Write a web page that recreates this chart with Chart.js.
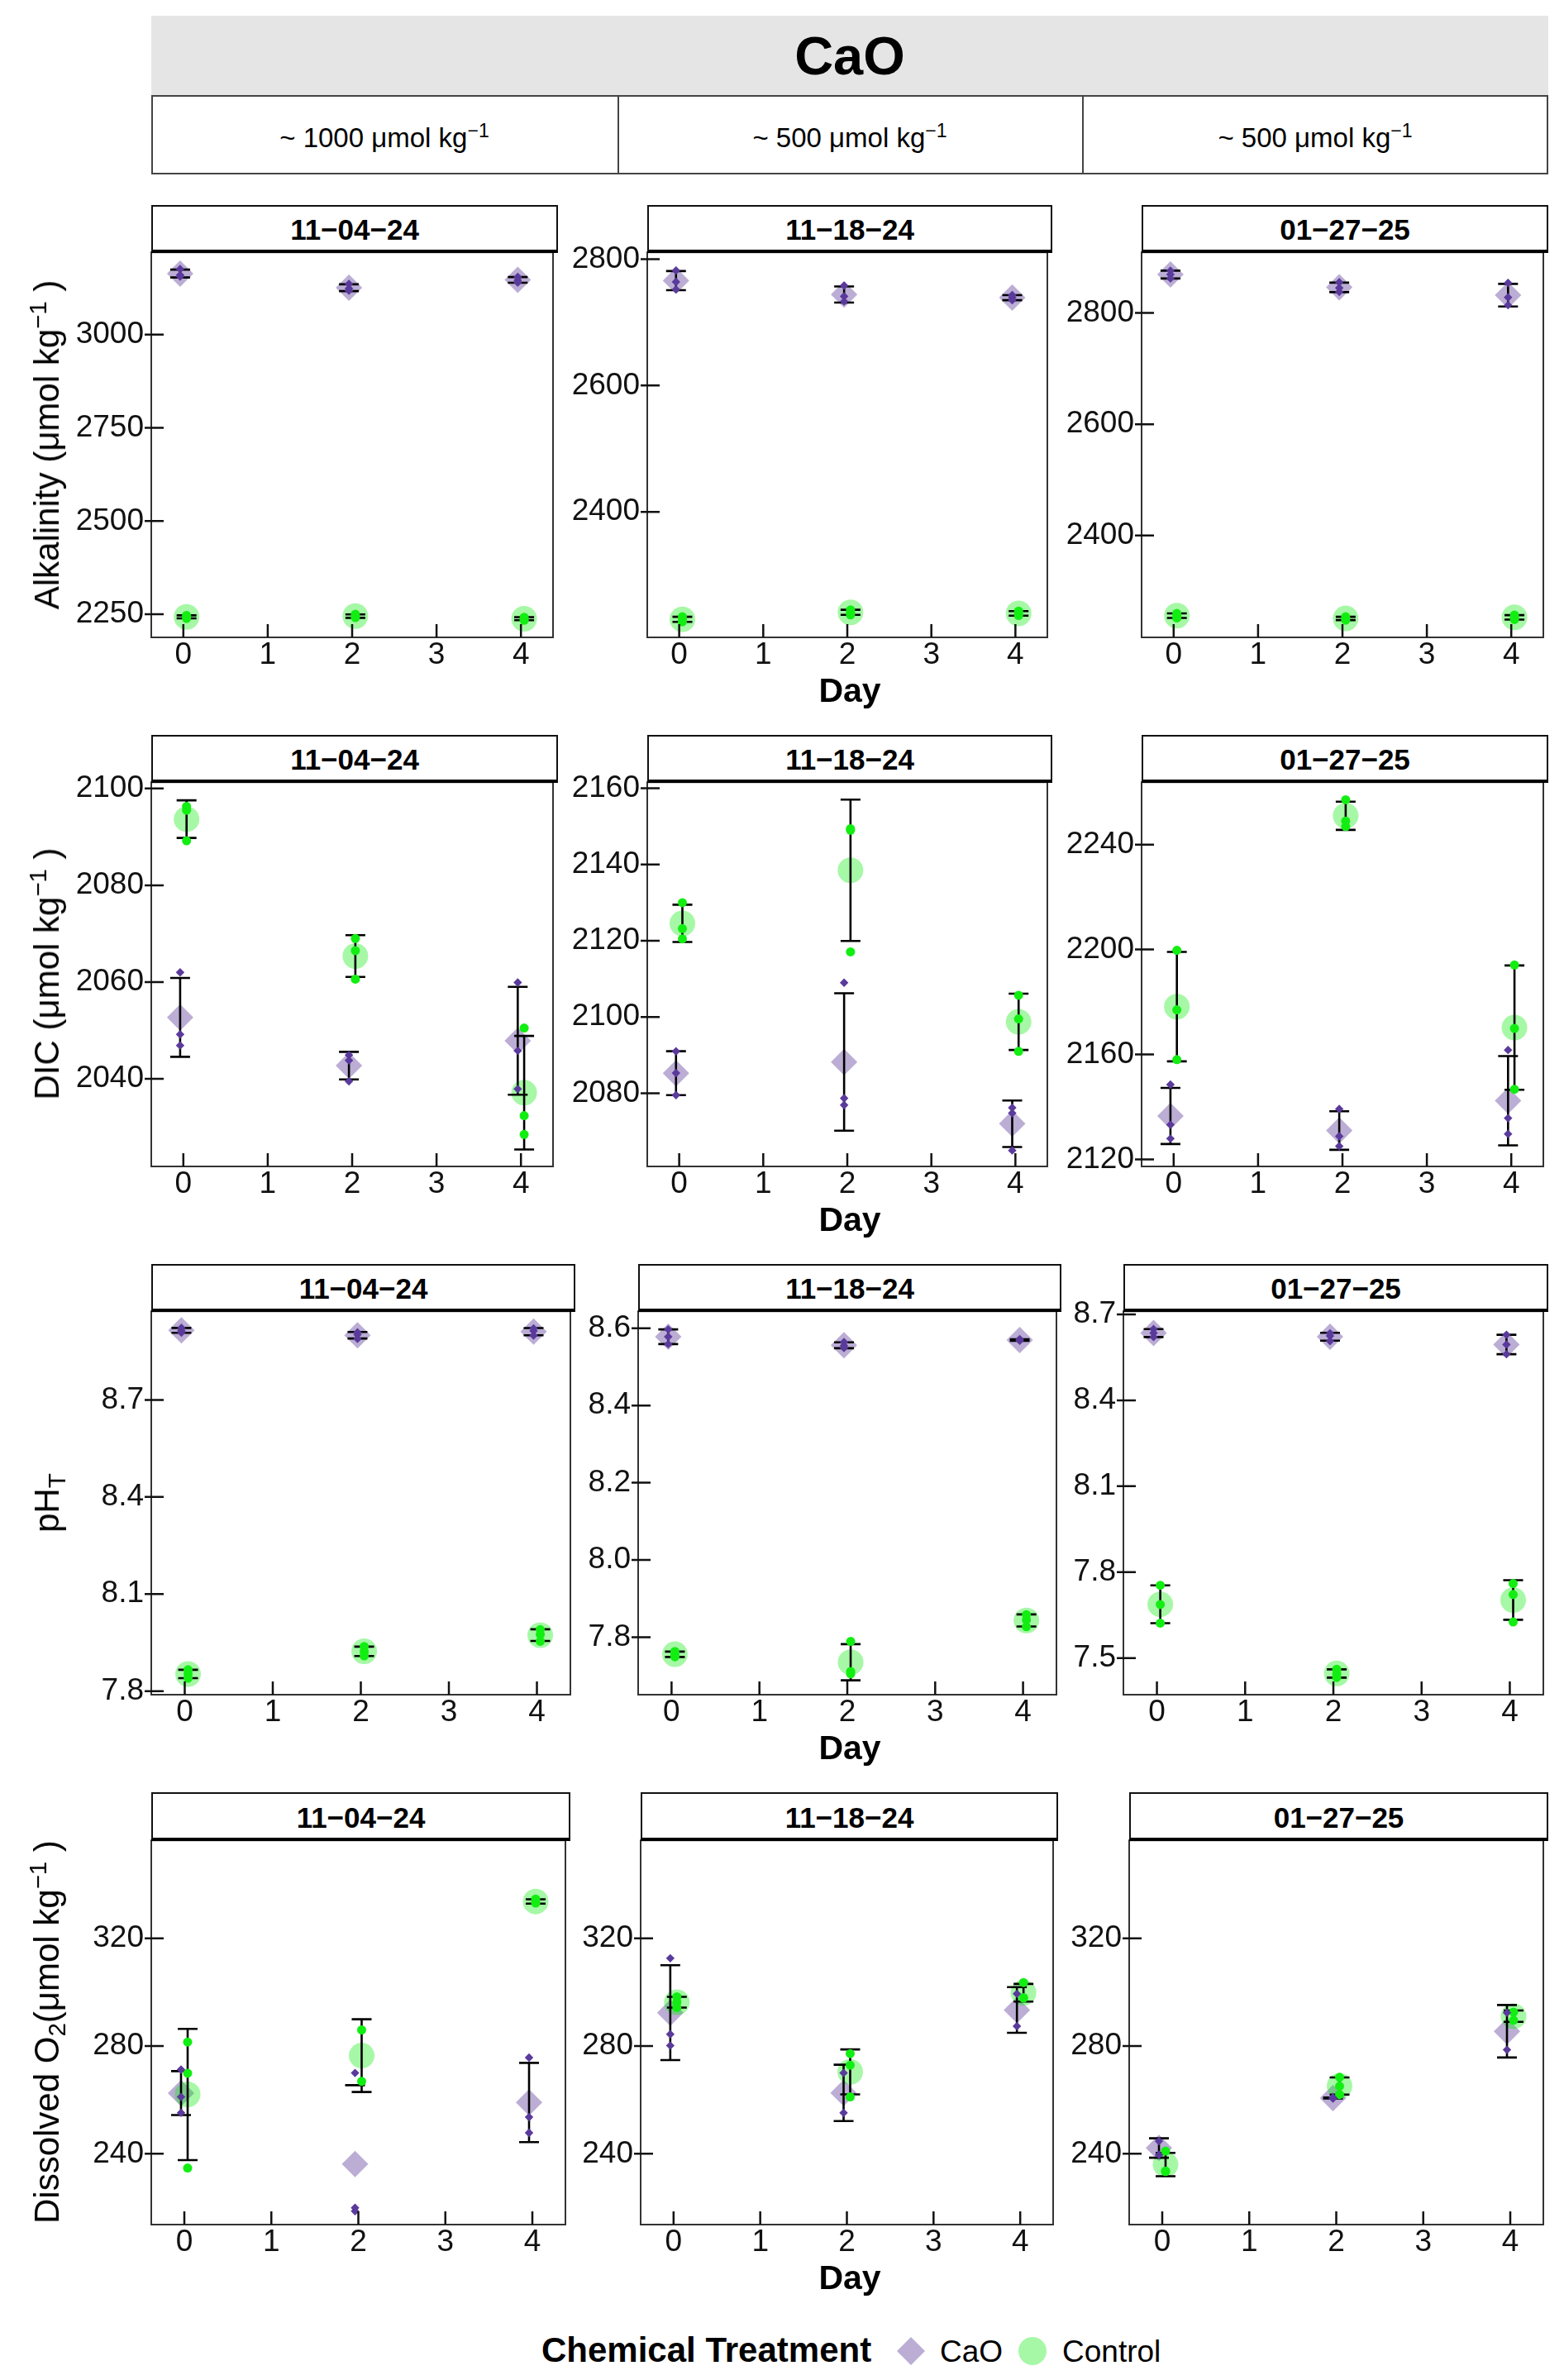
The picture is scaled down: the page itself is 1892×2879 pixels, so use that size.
<!DOCTYPE html>
<html>
<head>
<meta charset="utf-8">
<script src="https://cdn.jsdelivr.net/npm/chart.js@4.4.1/dist/chart.umd.min.js"></script>
<style>
html,body{margin:0;padding:0;background:#fff;}
#root{position:relative;width:1892px;height:2879px;overflow:hidden;font-family:"Liberation Sans",Arial,sans-serif;color:#000;background:#fff;}
.t{position:absolute;white-space:nowrap;}
canvas{position:absolute;}
sup{font-size:0.7em;vertical-align:0.5em;line-height:0;}
sub{font-size:0.7em;vertical-align:-0.28em;line-height:0;}
.box{position:absolute;box-sizing:border-box;}
</style>
</head>
<body>
<div id="root"></div>
<script>
// ---------------- DATA ----------------
const days = [0, 2, 4];
const dayTickLabels = ['0', '1', '2', '3', '4'];
const treatments = ['CaO', 'Control'];
const dates = ['11−04−24', '11−18−24', '01−27−25'];
const doses = ['~ 1000', '~ 500', '~ 500'];

// replicate values per day (0, 2, 4)
// Alkalinity (umol/kg)
const alk_CaO_110424  = [[3176, 3160, 3156], [3136, 3124, 3118], [3155, 3146, 3140]];
const alk_Ctl_110424  = [[2247, 2243, 2239], [2250, 2244, 2241], [2242, 2238, 2234]];
const alk_CaO_111824  = [[2782, 2764, 2752], [2758, 2741, 2733], [2743, 2739, 2735]];
const alk_Ctl_111824  = [[2234, 2230, 2226], [2245, 2241, 2237], [2243, 2239, 2236]];
const alk_CaO_012725  = [[2876, 2869, 2862], [2855, 2845, 2838], [2854, 2828, 2814]];
const alk_Ctl_012725  = [[2260, 2256, 2252], [2254, 2251, 2248], [2257, 2253, 2249]];
// DIC (umol/kg)
const dic_CaO_110424  = [[2062.0, 2049.2, 2046.9], [2044.9, 2043.8, 2039.5], [2059.9, 2045.8, 2037.9]];
const dic_Ctl_110424  = [[2096.3, 2095.5, 2089.2], [2069.0, 2066.5, 2060.6], [2050.5, 2032.4, 2028.5]];
const dic_CaO_111824  = [[2091.0, 2085.3, 2079.5], [2109.0, 2078.7, 2076.9], [2076.2, 2074.8, 2065.0]];
const dic_Ctl_111824  = [[2130.0, 2123.2, 2120.5], [2149.4, 2149.0, 2117.1], [2105.7, 2099.5, 2091.0]];
const dic_CaO_012725  = [[2148.5, 2133.2, 2127.9], [2139.2, 2128.8, 2125.0], [2161.7, 2135.7, 2129.7]];
const dic_Ctl_012725  = [[2199.7, 2177.0, 2158.0], [2257.1, 2249.0, 2246.9], [2194.1, 2169.9, 2146.7]];
// pH (total scale)
const ph_CaO_110424   = [[8.923, 8.914, 8.908], [8.909, 8.902, 8.889], [8.921, 8.913, 8.899]];
const ph_Ctl_110424   = [[7.866, 7.853, 7.840], [7.938, 7.922, 7.909], [7.990, 7.975, 7.954]];
const ph_CaO_111824   = [[8.597, 8.578, 8.559], [8.564, 8.555, 8.549], [8.572, 8.569, 8.568]];
const ph_Ctl_111824   = [[7.763, 7.755, 7.749], [7.789, 7.711, 7.705], [7.858, 7.845, 7.827]];
const ph_CaO_012725   = [[8.649, 8.635, 8.621], [8.634, 8.625, 8.607], [8.629, 8.595, 8.561]];
const ph_Ctl_012725   = [[7.754, 7.687, 7.622], [7.461, 7.445, 7.432], [7.760, 7.722, 7.626]];
// Dissolved O2 (umol/kg)
const o2_CaO_110424   = [[271.3, 261.1, 255.2], [270.0, 219.9, 218.7], [275.7, 253.6, 247.8]];
const o2_Ctl_110424   = [[281.5, 269.9, 234.7], [286.0, 266.9], [334.6, 333.4, 333.1]];
const o2_CaO_111824   = [[312.6, 284.4, 280.2], [270.0, 255.2], [299.4, 287.4]];
const o2_Ctl_111824   = [[298.3, 296.3, 294.3], [277.2, 272.9, 261.1], [303.6, 297.8, 298.0]];
const o2_CaO_012725   = [[244.7, 239.6], [260.9, 260.5, 260.7], [292.4, 278.6]];
const o2_Ctl_012725   = [[241.0, 233.6, 233.4], [268.4, 265.1, 262.0], [292.6, 289.6]];

// axis limits and tick labels per panel (11-04-24, 11-18-24, 01-27-25)
const alkRanges = [[2188, 3221], [2201.4, 2810.8], [2217, 2909]];
const dicRanges = [[2021.9, 2101.3], [2060.8, 2161.6], [2117.3, 2263.8]];
const phRanges  = [[7.789, 8.974], [7.651, 8.644], [7.372, 8.711]];
const o2Ranges  = [[213.7, 356.4], [213.7, 356.4], [213.7, 356.4]];
const alkTickLabels = [['2250', '2500', '2750', '3000'], ['2400', '2600', '2800'], ['2400', '2600', '2800']];
const dicTickLabels = [['2040', '2060', '2080', '2100'], ['2080', '2100', '2120', '2140', '2160'], ['2120', '2160', '2200', '2240']];
const phTickLabels  = [['7.8', '8.1', '8.4', '8.7'], ['7.8', '8.0', '8.2', '8.4', '8.6'], ['7.5', '7.8', '8.1', '8.4', '8.7']];
const o2TickLabels  = [['240', '280', '320'], ['240', '280', '320'], ['240', '280', '320']];

// ---------------- LAYOUT ----------------
const STRIP_TOP   = [248, 889, 1529, 2168];
const PLOT_TOP    = [304, 945, 1585, 2225];
const PLOT_BOTTOM = [771, 1411, 2050, 2691];
const COLS = [
  [[183, 675], [783, 1273], [1381, 1873]],
  [[183, 675], [783, 1273], [1381, 1873]],
  [[183, 696], [772, 1284], [1359, 1873]],
  [[183, 690], [775, 1280], [1366, 1873]]
];
const DODGE = 0.038;
const CAP = 12;

const C_MEAN_CAO = 'rgba(94,60,153,0.42)';
const C_MEAN_CTL = 'rgba(0,235,0,0.35)';
const C_REP_CAO = '#5a3a9b';
const C_REP_CTL = '#12ee12';

const ROWS = [
  {title: 'Alkalinity (μmol kg<sup>−1</sup> )', cao: [alk_CaO_110424, alk_CaO_111824, alk_CaO_012725], ctl: [alk_Ctl_110424, alk_Ctl_111824, alk_Ctl_012725], ranges: alkRanges, ticks: alkTickLabels},
  {title: 'DIC (μmol kg<sup>−1</sup> )', cao: [dic_CaO_110424, dic_CaO_111824, dic_CaO_012725], ctl: [dic_Ctl_110424, dic_Ctl_111824, dic_Ctl_012725], ranges: dicRanges, ticks: dicTickLabels},
  {title: 'pH<sub>T</sub>', cao: [ph_CaO_110424, ph_CaO_111824, ph_CaO_012725], ctl: [ph_Ctl_110424, ph_Ctl_111824, ph_Ctl_012725], ranges: phRanges, ticks: phTickLabels},
  {title: 'Dissolved O<sub>2</sub>(μmol kg<sup>−1</sup> )', cao: [o2_CaO_110424, o2_CaO_111824, o2_CaO_012725], ctl: [o2_Ctl_110424, o2_Ctl_111824, o2_Ctl_012725], ranges: o2Ranges, ticks: o2TickLabels}
];

Chart.defaults.font.family = '"Liberation Sans", Arial, sans-serif';
const root = document.getElementById('root');

function mean(a) { return a.reduce((s, v) => s + v, 0) / a.length; }
function sd(a) {
  if (a.length < 2) return NaN;
  const m = mean(a);
  return Math.sqrt(a.reduce((s, v) => s + (v - m) * (v - m), 0) / (a.length - 1));
}

// text helper: x = anchor, baseline = y of baseline
function txt(html, x, baseline, size, opts) {
  opts = opts || {};
  const d = document.createElement('div');
  d.className = 't';
  d.innerHTML = html;
  const L = size;
  d.style.fontSize = size + 'px';
  d.style.lineHeight = L + 'px';
  d.style.fontWeight = opts.bold ? 'bold' : 'normal';
  d.style.top = (baseline - L / 2 - 0.3465 * size) + 'px';
  d.style.left = x + 'px';
  if (opts.align === 'left') d.style.transform = 'none';
  else d.style.transform = 'translateX(-50%)';
  root.appendChild(d);
  return d;
}
function vtxt(html, cx, cy, size) {
  const d = document.createElement('div');
  d.className = 't';
  d.innerHTML = html;
  d.style.fontSize = size + 'px';
  d.style.lineHeight = size + 'px';
  d.style.left = cx + 'px';
  d.style.top = cy + 'px';
  d.style.transform = 'translate(-50%,-50%) rotate(-90deg)';
  root.appendChild(d);
}

const decor = {
  id: 'decor',
  beforeDatasetDraw(chart, args) {
    if (args.index !== 1) return;
    const bars = chart.options.plugins.decor.bars;
    const xs = chart.scales.x, ys = chart.scales.y;
    const ctx = chart.ctx, a = chart.chartArea;
    ctx.save();
    ctx.beginPath(); ctx.rect(a.left, a.top, a.right - a.left, a.bottom - a.top); ctx.clip();
    ctx.strokeStyle = '#000';
    ctx.lineWidth = 2.6;
    bars.forEach(b => {
      if (!isFinite(b.s)) return;
      const px = xs.getPixelForValue(b.x);
      const top = ys.getPixelForValue(b.m + b.s);
      const bot = ys.getPixelForValue(b.m - b.s);
      ctx.beginPath();
      if (b.m - b.s < ys.min) {
        ctx.moveTo(px - CAP, top); ctx.lineTo(px + CAP, top);
      } else {
        ctx.moveTo(px - CAP, top); ctx.lineTo(px + CAP, top);
        ctx.moveTo(px, top); ctx.lineTo(px, bot);
        ctx.moveTo(px - CAP, bot); ctx.lineTo(px + CAP, bot);
      }
      ctx.stroke();
    });
    ctx.restore();
  },
  afterDraw(chart) {
    const ctx = chart.ctx, a = chart.chartArea;
    const xs = chart.scales.x, ys = chart.scales.y;
    ctx.save();
    ctx.strokeStyle = '#333';
    ctx.lineWidth = 2;
    ctx.strokeRect(a.left, a.top, a.right - a.left, a.bottom - a.top);
    ctx.strokeStyle = '#111';
    ctx.lineWidth = 2.5;
    ctx.beginPath();
    ys.ticks.forEach(t => {
      const y = ys.getPixelForValue(t.value);
      ctx.moveTo(a.left - 8, y); ctx.lineTo(a.left + 15, y);
    });
    xs.ticks.forEach(t => {
      const x = xs.getPixelForValue(t.value);
      ctx.moveTo(x, a.bottom); ctx.lineTo(x, a.bottom - 16);
    });
    ctx.stroke();
    ctx.restore();
  }
};

function makePanel(r, c) {
  const row = ROWS[r];
  const [pL, pR] = COLS[r][c];
  const pT = PLOT_TOP[r], pB = PLOT_BOTTOM[r];
  const pW = pR - pL, pH = pB - pT;
  const AXW = 130, PADT = 30, PADR = 10, XAH = 60;
  const cv = document.createElement('canvas');
  cv.width = AXW + pW + PADR; cv.height = PADT + pH + XAH;
  cv.style.width = cv.width + 'px'; cv.style.height = cv.height + 'px';
  cv.style.left = (pL - AXW) + 'px'; cv.style.top = (pT - PADT) + 'px';
  root.appendChild(cv);

  const cao = row.cao[c], ctl = row.ctl[c];
  const repCao = [], repCtl = [], meanCao = [], meanCtl = [], bars = [];
  days.forEach((d, i) => {
    cao[i].forEach(v => repCao.push({x: d - DODGE, y: v}));
    ctl[i].forEach(v => repCtl.push({x: d + DODGE, y: v}));
    meanCao.push({x: d - DODGE, y: mean(cao[i])});
    meanCtl.push({x: d + DODGE, y: mean(ctl[i])});
    bars.push({x: d - DODGE, m: mean(cao[i]), s: sd(cao[i])});
    bars.push({x: d + DODGE, m: mean(ctl[i]), s: sd(ctl[i])});
  });
  const labels = row.ticks[c];
  const [ymin, ymax] = row.ranges[c];

  new Chart(cv, {
    type: 'scatter',
    data: {
      datasets: [
        {label: 'CaO rep', data: repCao, pointStyle: 'rectRot', pointRadius: 5.2, pointHoverRadius: 5.2, backgroundColor: C_REP_CAO, borderWidth: 0},
        {label: 'Control rep', data: repCtl, pointStyle: 'circle', pointRadius: 5.5, pointHoverRadius: 5.5, backgroundColor: C_REP_CTL, borderWidth: 0},
        {label: 'Control', data: meanCtl, pointStyle: 'circle', pointRadius: 15.5, pointHoverRadius: 15.5, backgroundColor: C_MEAN_CTL, borderWidth: 0},
        {label: 'CaO', data: meanCao, pointStyle: 'rectRot', pointRadius: 16, pointHoverRadius: 16, backgroundColor: C_MEAN_CAO, borderWidth: 0}
      ]
    },
    options: {
      responsive: false,
      animation: false,
      devicePixelRatio: 1,
      events: [],
      layout: {padding: {top: PADT, right: PADR, left: 0, bottom: 0}},
      plugins: {legend: {display: false}, tooltip: {enabled: false}, decor: {bars: bars}},
      scales: {
        x: {
          type: 'linear', min: -0.38, max: 4.38,
          afterBuildTicks: s => { s.ticks = dayTickLabels.map(l => ({value: Number(l)})); },
          ticks: {font: {size: 37}, color: '#111', padding: 0, autoSkip: false, maxRotation: 0, minRotation: 0,
                  callback: v => dayTickLabels.find(l => Number(l) === v) || ''},
          grid: {display: false, drawTicks: false, tickLength: 0},
          border: {display: false},
          afterFit: s => { s.height = XAH; }
        },
        y: {
          type: 'linear', min: ymin, max: ymax,
          afterBuildTicks: s => { s.ticks = labels.map(l => ({value: Number(l)})); },
          ticks: {font: {size: 37}, color: '#111', padding: 9, autoSkip: false,
                  callback: v => labels.find(l => Math.abs(Number(l) - v) < 1e-9) || ''},
          grid: {display: false, drawTicks: false, tickLength: 0},
          border: {display: false},
          afterFit: s => { s.width = AXW; }
        }
      }
    },
    plugins: [decor]
  });

  // facet strip
  const st = document.createElement('div');
  st.className = 'box';
  st.style.left = pL + 'px';
  st.style.top = STRIP_TOP[r] + 'px';
  st.style.width = pW + 'px';
  st.style.height = (pT + 2 - STRIP_TOP[r]) + 'px';
  st.style.border = '2px solid #111';
  st.style.borderBottom = '4px solid #000';
  st.style.background = '#fff';
  root.appendChild(st);
  txt(dates[c], (pL + pR) / 2, (STRIP_TOP[r] + pT) / 2 + 14, 35, {bold: true});
}

// header
(function header() {
  const h = document.createElement('div');
  h.className = 'box';
  h.style.left = '183px'; h.style.top = '19px'; h.style.width = (1873 - 183) + 'px'; h.style.height = '96px';
  h.style.background = '#e5e5e5';
  root.appendChild(h);
  txt('CaO', 1028, 90.5, 65, {bold: true});
  const edges = [183, 747, 1309, 1873];
  for (let i = 0; i < 3; i++) {
    const b = document.createElement('div');
    b.className = 'box';
    b.style.left = edges[i] + 'px'; b.style.top = '115px';
    b.style.width = (edges[i + 1] - edges[i] + (i < 2 ? 2 : 0)) + 'px'; b.style.height = '96px';
    b.style.border = '2px solid #444';
    root.appendChild(b);
    txt(doses[i] + ' μmol kg<sup>−1</sup>', (edges[i] + edges[i + 1]) / 2, 178, 33);
  }
})();

for (let r = 0; r < 4; r++) {
  for (let c = 0; c < 3; c++) makePanel(r, c);
  vtxt(ROWS[r].title, 57.4, (PLOT_TOP[r] + PLOT_BOTTOM[r]) / 2, 42);
  txt('Day', 1028, PLOT_BOTTOM[r] + 79, 41, {bold: true});
}

// legend
(function legend() {
  txt('Chemical Treatment', 655, 2858, 42, {bold: true, align: 'left'});
  const ns = 'http://www.w3.org/2000/svg';
  function key(cx, shape, color) {
    const s = document.createElementNS(ns, 'svg');
    s.setAttribute('width', 40); s.setAttribute('height', 40);
    s.style.position = 'absolute'; s.style.left = (cx - 20) + 'px'; s.style.top = (2844 - 20) + 'px';
    let el;
    if (shape === 'diamond') {
      el = document.createElementNS(ns, 'polygon');
      el.setAttribute('points', '20,3 37,20 20,37 3,20');
    } else {
      el = document.createElementNS(ns, 'circle');
      el.setAttribute('cx', 20); el.setAttribute('cy', 20); el.setAttribute('r', 17);
    }
    el.setAttribute('fill', color);
    s.appendChild(el);
    root.appendChild(s);
  }
  key(1102, 'diamond', C_MEAN_CAO);
  txt(treatments[0], 1137, 2857, 37, {align: 'left'});
  key(1249, 'circle', C_MEAN_CTL);
  txt(treatments[1], 1285, 2857, 37, {align: 'left'});
})();
</script>
</body>
</html>
